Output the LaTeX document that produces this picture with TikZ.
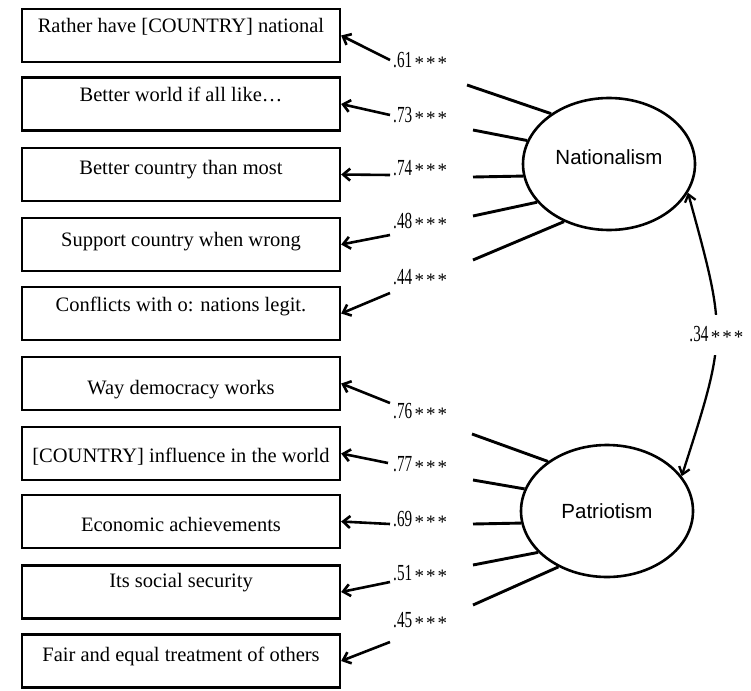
\documentclass[tikz,border=0pt]{standalone}
\usepackage{fontspec}
\usepackage{graphicx}
\setmainfont{Liberation Serif}
\newfontfamily\latentfont{Liberation Sans}
\usetikzlibrary{arrows.meta,shapes.geometric}

% standardised loading with significance stars
\newcommand{\loadingtext}[1]{\scalebox{0.66}[1]{\fontsize{23}{23}\selectfont #1}\hspace{2.5pt}\raisebox{-1.5pt}{\fontsize{19}{19}\selectfont *\hspace{2pt}*\hspace{2pt}*}}

\begin{document}
\begin{tikzpicture}[x=1pt,y=-1pt,
  itembox/.style={draw, line width=2.3pt, minimum width=318pt, minimum height=53pt,
    inner ysep=1pt, font=\fontsize{20.5}{24}\selectfont},
  latent/.style={draw, ellipse, line width=2.6pt, inner sep=0pt,
    minimum width=172pt, minimum height=132pt,
    font=\latentfont\fontsize{20.5}{24}\selectfont},
  loadline/.style={line width=2.9pt},
  loadarrow/.style={line width=2.6pt, -{Straight Barb[length=7pt,width=12pt]}},
  coef/.style={anchor=base west, inner sep=0pt},
  corr/.style={line width=2.3pt,
    {Straight Barb[length=7pt,width=11pt]}-{Straight Barb[length=7pt,width=11pt]}},
  corrlabel/.style={fill=white, inner xsep=1pt, inner ysep=12pt}
]
\useasboundingbox (0,0) rectangle (751,690);

% latent factors
\node[latent, text height=12pt, text depth=12pt] (nat) at (609,164) {Nationalism};
\node[latent, text height=15pt, text depth=0.4pt] (pat) at (607,511) {Patriotism};

% observed items
\node[itembox, text height=14pt, text depth=20.4pt] (i1) at (181,35.5) {Rather have [COUNTRY] national};
\node[itembox, text height=14pt, text depth=18.4pt] (i2) at (181,104) {Better world if all like\dots};
\node[itembox, text height=14pt, text depth=13.4pt] (i3) at (181,174.5) {Better country than most};
\node[itembox, text height=14pt, text depth=9.4pt] (i4) at (181,244.5) {Support country when wrong};
\node[itembox, text height=14pt, text depth=17.4pt] (i5) at (181,313.5) {Conflicts with o: nations legit.};
\node[itembox, text height=30pt, text depth=7.4pt] (i6) at (181,383.5) {Way democracy works};
\node[itembox, text height=26pt, text depth=7.4pt] (i7) at (181,453.5) {[COUNTRY] influence in the world};
\node[itembox, text height=28pt, text depth=7.4pt] (i8) at (181,521.5) {Economic achievements};
\node[itembox, text height=14pt, text depth=22.4pt] (i9) at (181,592) {Its social security};
\node[itembox, text height=14pt, text depth=12.4pt] (i10) at (181,661) {Fair and equal treatment of others};

% outer ends of the factor lines
\coordinate (n1o) at (467,85);
\coordinate (n2o) at (473,130);
\coordinate (n3o) at (473,177);
\coordinate (n4o) at (473,216);
\coordinate (n5o) at (473,260);
\coordinate (p1o) at (472,434);
\coordinate (p2o) at (473,480);
\coordinate (p3o) at (473,524);
\coordinate (p4o) at (473,565);
\coordinate (p5o) at (473,605);

% starts of the arrows into the items
\coordinate (n1a) at (390,60);
\coordinate (n2a) at (390,115);
\coordinate (n3a) at (390,175);
\coordinate (n4a) at (390,235);
\coordinate (n5a) at (390,293);
\coordinate (p1a) at (390,403);
\coordinate (p2a) at (388,463);
\coordinate (p3a) at (390,524);
\coordinate (p4a) at (390,582);
\coordinate (p5a) at (390,642);

% Nationalism loadings
\draw[loadline] (nat.139) -- (n1o);
\draw[loadline] (nat.164) -- (n2o);
\draw[loadline] (nat.188.6) -- (n3o);
\draw[loadline] (nat.208.8) -- (n4o);
\draw[loadline] (nat.232.8) -- (n5o);
\draw[loadarrow] (n1a) -- (i1.east);
\draw[loadarrow] (n2a) -- (i2.east);
\draw[loadarrow] (n3a) -- (i3.east);
\draw[loadarrow] (n4a) -- (i4.east);
\draw[loadarrow] (n5a) -- (i5.east);
\node[coef] (c1) at (393,67.8) {\loadingtext{.61}};
\node[coef] (c2) at (393,122.8) {\loadingtext{.73}};
\node[coef] (c3) at (393,175.3) {\loadingtext{.74}};
\node[coef] (c4) at (393,228.8) {\loadingtext{.48}};
\node[coef] (c5) at (393,284.8) {\loadingtext{.44}};

% Patriotism loadings
\draw[loadline] (pat.140) -- (p1o);
\draw[loadline] (pat.165.3) -- (p2o);
\draw[loadline] (pat.188.7) -- (p3o);
\draw[loadline] (pat.211) -- (p4o);
\draw[loadline] (pat.229.3) -- (p5o);
\draw[loadarrow] (p1a) -- (i6.east);
\draw[loadarrow] (p2a) -- (i7.east);
\draw[loadarrow] (p3a) -- (i8.east);
\draw[loadarrow] (p4a) -- (i9.east);
\draw[loadarrow] (p5a) -- (i10.east);
\node[coef] (c6) at (393,418.8) {\loadingtext{.76}};
\node[coef] (c7) at (393,471.8) {\loadingtext{.77}};
\node[coef] (c8) at (393,526.8) {\loadingtext{.69}};
\node[coef] (c9) at (393,580.8) {\loadingtext{.51}};
\node[coef] (c10) at (393,627.8) {\loadingtext{.45}};

% factor correlation
\draw[corr] (nat.340) .. controls (727,335) and (727,335) .. (pat.25)
  node[corrlabel, pos=0.5] (r) {\loadingtext{.34}};
\end{tikzpicture}
\end{document}
